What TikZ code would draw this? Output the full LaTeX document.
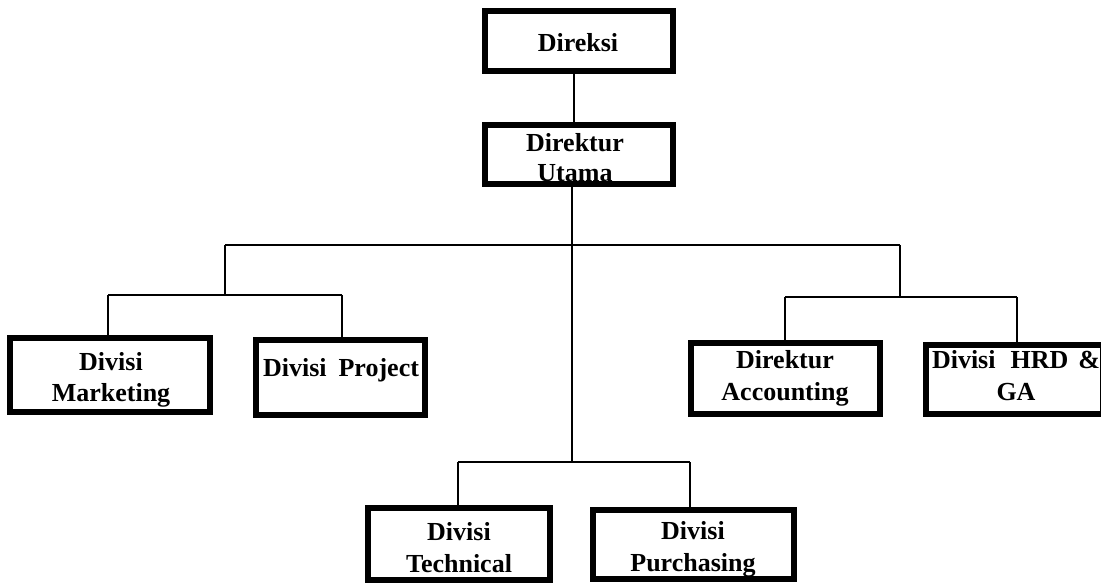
\documentclass[tikz,border=0pt]{standalone}
\usepackage{fontspec}
\setmainfont{Liberation Serif}
\begin{document}
\begin{tikzpicture}[x=1pt,y=-1pt,
  box/.style={draw, line width=6pt, inner sep=0pt, outer sep=3pt},
  conn/.style={draw, line width=2pt},
  lbl/.style={font=\bfseries\fontsize{26}{32}\selectfont, align=center, inner sep=0pt, anchor=base}]
\useasboundingbox (0,0) rectangle (1101,585);
\clip (0,0) rectangle (1101,585);
% boxes
\node[box, minimum width=188pt, minimum height=60pt] (dir) at (579,41) {};
\node[box, minimum width=188pt, minimum height=59pt] (du) at (579,154.5) {};
\node[box, minimum width=200pt, minimum height=74pt] (mk) at (110,375) {};
\node[box, minimum width=169pt, minimum height=75pt] (pj) at (340.5,377.5) {};
\node[box, minimum width=189pt, minimum height=71pt] (ac) at (785.5,378.5) {};
\node[box, minimum width=177pt, minimum height=69pt] (hr) at (1014.5,379.5) {};
\node[box, minimum width=182pt, minimum height=72pt] (tc) at (459,544) {};
\node[box, minimum width=201pt, minimum height=69pt] (pu) at (693.5,544.5) {};
% labels (base anchor = baseline of last line)
\node[lbl] (tdir) at (578,52) {Direksi};
\node[lbl, font=\bfseries\fontsize{26}{30}\selectfont] (tdu) at (575,182) {Direktur\\Utama};
\node[lbl] (tmk) at (111,402) {Divisi\\Marketing};
\node[lbl] (tpj) at (341,377) {Divisi\hspace{12pt}Project};
\node[lbl] (tac) at (785,400) {Direktur\\Accounting};
\node[lbl] (thr) at (1016,400) {Divisi\hspace{15pt}HRD\hspace{10pt}\&\\GA};
\node[lbl] (ttc) at (459,572) {Divisi\\Technical};
\node[lbl] (tpu) at (693,571) {Divisi\\Purchasing};
% junction points
\coordinate (jl) at (225,245);
\coordinate (jr) at (900,245);
\coordinate (jl2) at (225,295);
\coordinate (ml) at (108,295);
\coordinate (mr) at (342,295);
\coordinate (jr2) at (900,297);
\coordinate (al) at (785,297);
\coordinate (ar) at (1017,297);
\coordinate (jb) at (572,462);
\coordinate (bl) at (458,462);
\coordinate (br) at (690,462);
% connectors
\draw[conn] ([xshift=-5pt]dir.south) -- ([xshift=-5pt]du.north);
\draw[conn] ([xshift=-7pt]du.south) -- (jb);
\draw[conn] (jl) -- (jr);
\draw[conn] (jl) -- (jl2);
\draw[conn] (ml) -- (mr);
\draw[conn] (ml) -- (ml |- mk.north);
\draw[conn] (mr) -- (mr |- pj.north);
\draw[conn] (jr) -- (jr2);
\draw[conn] (al) -- (ar);
\draw[conn] (al) -- (al |- ac.north);
\draw[conn] (ar) -- (ar |- hr.north);
\draw[conn] (bl) -- (br);
\draw[conn] (bl) -- (bl |- tc.north);
\draw[conn] (br) -- (br |- pu.north);
\end{tikzpicture}
\end{document}
